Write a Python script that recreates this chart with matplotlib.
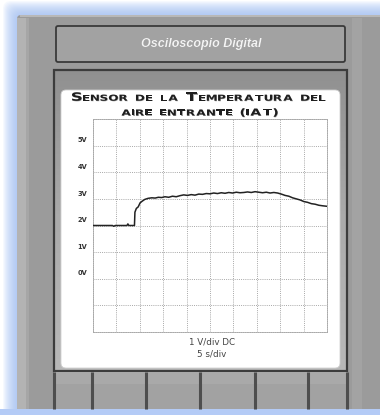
import numpy as np
import matplotlib
matplotlib.use("Agg")
import matplotlib.pyplot as plt
from matplotlib.patches import Rectangle, FancyBboxPatch, PathPatch
from matplotlib.colors import LinearSegmentedColormap
from matplotlib.textpath import TextPath
from matplotlib.font_manager import FontProperties
from matplotlib.transforms import Affine2D

# ---- data ----
time_s = [0, 4.2, 4.5, 4.8, 5.2, 7.3, 7.5, 7.7, 8.9, 9.0, 9.3, 9.7, 10.1, 10.6, 11.1, 11.8,
          12.6, 13.3, 14.0, 14.7, 15.4, 16.2, 17.0, 17.8, 18.6, 19.4, 20.2, 21.0, 21.8, 22.6,
          23.4, 24.2, 25.0, 25.8, 26.6, 27.4, 28.2, 29.0, 29.8, 30.6, 31.4, 32.2, 33.0, 33.8,
          34.6, 35.4, 36.2, 37.0, 37.8, 38.6, 39.4, 40.2, 41.0, 41.8, 42.6, 43.4, 44.2, 45.0,
          45.8, 46.6, 47.4, 48.2, 49.0, 50.0]
volts = [2.0, 2.0, 1.97, 2.0, 2.0, 2.0, 2.06, 2.0, 2.0, 2.5, 2.64, 2.7, 2.85, 2.92, 2.98, 3.02,
         3.04, 3.03, 3.06, 3.05, 3.08, 3.06, 3.1, 3.08, 3.12, 3.15, 3.13, 3.16, 3.14, 3.18,
         3.17, 3.2, 3.19, 3.22, 3.2, 3.23, 3.21, 3.24, 3.22, 3.25, 3.23, 3.24, 3.26, 3.24,
         3.27, 3.25, 3.23, 3.25, 3.22, 3.24, 3.22, 3.18, 3.13, 3.1, 3.04, 3.0, 2.96, 2.9,
         2.87, 2.82, 2.8, 2.76, 2.74, 2.72]
volt_labels = ["5V", "4V", "3V", "2V", "1V", "0V"]
volt_label_vals = [5, 4, 3, 2, 1, 0]
header_text = "Osciloscopio Digital"
BIG, SMALL, IAT = 11.4, 8.3, 9.6   # glyph sizes in pixels
title_line1 = [("S", BIG), ("ENSOR", SMALL), (" ", SMALL), ("DE", SMALL), (" ", SMALL),
               ("LA", SMALL), (" ", SMALL), ("T", BIG), ("EMPERATURA", SMALL), (" ", SMALL),
               ("DEL", SMALL)]
title_line2 = [("AIRE", SMALL), (" ", SMALL), ("ENTRANTE", SMALL), (" ", SMALL), ("(IAT)", IAT)]
scale_texts = ["1 V/div DC", "5 s/div"]

W, H = 380, 415
fig = plt.figure(figsize=(W / 100, H / 100), dpi=100)
fig.patch.set_facecolor("white")
bg = fig.add_axes([0, 0, 1, 1])
bg.set_xlim(0, W)
bg.set_ylim(H, 0)
bg.axis("off")

# blue glow around device body
for k in range(14, 0, -1):
    bg.add_patch(FancyBboxPatch((17 - k, 15 - k), 400, 420, boxstyle="round,pad=0,rounding_size=8",
                                facecolor="#9fbdf4", edgecolor="none", alpha=0.09))
# device body
bg.add_patch(FancyBboxPatch((17, 15), 400, 395, boxstyle="round,pad=0,rounding_size=4",
                            facecolor="#9b9b9b", edgecolor="none"))
bg.add_patch(Rectangle((17, 18), 9, 392, facecolor="#b3b3b3", edgecolor="none"))
bg.add_patch(Rectangle((26, 18), 3, 392, facecolor="#a6a6a6", edgecolor="none"))
bg.add_patch(Rectangle((352, 18), 10, 392, facecolor="#a3a3a3", edgecolor="none"))
bg.add_patch(Rectangle((20, 15.5), 400, 2, facecolor="#b8b8b8", edgecolor="none"))
# bottom blue band
bg.add_patch(Rectangle((0, 409), W, 6, facecolor="#b4cbf6", edgecolor="none"))

# header box
bg.add_patch(FancyBboxPatch((56, 26), 289, 36, boxstyle="round,pad=0,rounding_size=2",
                            facecolor="#a2a2a2", edgecolor="#3a3a3a", linewidth=1.3))
bg.text(201.5, 44.5, header_text, color="#7a7a7a", fontsize=9, fontweight="bold",
        fontstyle="italic", family="Liberation Sans", ha="center", va="center")
bg.text(201, 44, header_text, color="#f4f4f4", fontsize=9, fontweight="bold",
        fontstyle="italic", family="Liberation Sans", ha="center", va="center")

# screen frame with gradient
grad = np.linspace(0, 1, 100).reshape(-1, 1)
cm = LinearSegmentedColormap.from_list("g", ["#909090", "#ababab", "#b8b8b8"])
bg.imshow(grad, cmap=cm, extent=(54, 347, 371, 70), aspect="auto", zorder=1)
bg.add_patch(Rectangle((54, 70), 293, 301, facecolor="none", edgecolor="#3c3c3c",
                       linewidth=1.6, zorder=2))
# white panel
bg.add_patch(FancyBboxPatch((61, 90), 279, 278, boxstyle="round,pad=0,rounding_size=5",
                            facecolor="white", edgecolor="#d0d0d0", linewidth=0.6, zorder=3))

# button row
bg.add_patch(Rectangle((54, 372), 293, 37, facecolor="#a9a9a9", edgecolor="none", zorder=2))
bg.add_patch(Rectangle((54, 384), 293, 25, facecolor="#a2a2a2", edgecolor="none", zorder=2))
for xd in [54, 92, 146, 200, 255, 308, 347]:
    bg.plot([xd, xd], [372, 409], color="#4e4e4e", linewidth=2.2, zorder=4,
            solid_capstyle="butt")

# title: wide small caps drawn as stretched glyph paths
fp = FontProperties(family="DejaVu Sans", weight="bold")
SX = 1.45


def draw_tracked(segments, baseline_y, target_w, cx):
    chars = []
    for s, size in segments:
        for ch in s:
            chars.append((ch, size))
    items = []
    for ch, size in chars:
        if ch == " ":
            items.append((None, size * 0.45 * SX, 0))
            continue
        p = TextPath((0, 0), ch, size=size, prop=fp)
        ext = p.get_extents()
        items.append((p, (ext.x1 - ext.x0) * SX, ext.x0))
    natural = sum(w for _, w, _ in items)
    track = (target_w - natural) / (len(items) - 1)
    x = cx - target_w / 2
    for p, w, x0 in items:
        if p is not None:
            for dx, dy, col, z in [(0.5, 0.5, "#a0a0a0", 5), (0, 0, "#1e1e1e", 6)]:
                tr = Affine2D().translate(-x0, 0).scale(SX, -1).translate(x + dx, baseline_y + dy)
                bg.add_patch(PathPatch(tr.transform_path(p), facecolor=col, edgecolor="none",
                                       zorder=z))
        x += w + track


draw_tracked(title_line1, 100.7, 253, 198.5)
draw_tracked(title_line2, 115.5, 156, 199.5)

# chart axes (grid area)
left, right, top, bottom = 92.7, 327.3, 119, 332
ax = fig.add_axes([left / W, (H - bottom) / H, (right - left) / W, (bottom - top) / H])
ax.set_facecolor("none")
ax.set_xlim(0, 50)
ax.set_ylim(-2, 6)
ax.set_xticks(np.arange(0, 51, 5))
ax.set_yticks(np.arange(-2, 7, 1))
ax.tick_params(length=0, labelbottom=False, labelleft=False)
ax.grid(True, color="#a8a8a8", linewidth=0.7, linestyle=(0, (1, 1.2)))
for sp in ax.spines.values():
    sp.set_color("#a8a8a8")
    sp.set_linewidth(0.7)
    sp.set_linestyle((0, (1, 1.2)))
ax.plot(time_s, volts, color="#222222", linewidth=1.1, zorder=5)
for lab, v in zip(volt_labels, volt_label_vals):
    ax.text(-1.2, v + 0.2, lab, fontsize=4.8, fontweight="bold", color="#333333",
            ha="right", va="center", clip_on=False)
ax.text(25.4, -2.38, scale_texts[0], fontsize=6.3, color="#444444", ha="center", va="center",
        clip_on=False)
ax.text(25.4, -2.83, scale_texts[1], fontsize=6.3, color="#444444", ha="center", va="center",
        clip_on=False)

fig.savefig("out.png", dpi=100)
